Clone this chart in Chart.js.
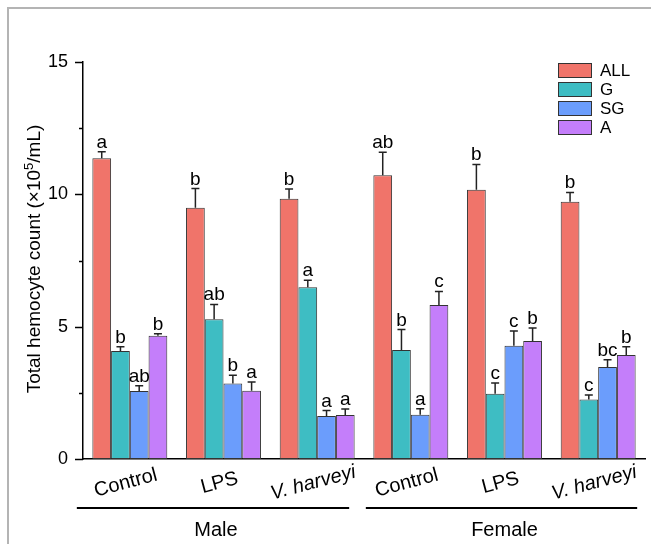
<!DOCTYPE html>
<html>
<head>
<meta charset="utf-8">
<script src="https://cdn.jsdelivr.net/npm/chart.js@4"></script>
<style>
  html, body { margin: 0; padding: 0; background: #fff; }
  #wrap { position: relative; width: 651px; height: 544px; overflow: hidden; }
  #frame { position: absolute; left: 7px; top: 7px; right: -10px; bottom: -10px;
           border-left: 2px solid #b4b4b4; border-top: 2px solid #b4b4b4; }
  canvas { position: absolute; left: 0; top: 0; }
</style>
</head>
<body>
<div id="wrap">
  <div id="frame"></div>
  <canvas id="chart" width="651" height="544"></canvas>
</div>
<script>
// categories and groups
const categories = ['Control', 'LPS', 'V. harveyi', 'Control', 'LPS', 'V. harveyi'];
const groups = ['Male', 'Female'];
const seriesNames = ['ALL', 'G', 'SG', 'A'];

// values
const allVals = [11.36, 9.49, 9.83, 10.72, 10.17, 9.72];
const allErr  = [0.25, 0.73, 0.37, 0.87, 0.96, 0.35];
const gVals   = [4.08, 5.28, 6.49, 4.12, 2.47, 2.25];
const gErr    = [0.16, 0.56, 0.26, 0.77, 0.40, 0.17];
const sgVals  = [2.57, 2.85, 1.62, 1.67, 4.28, 3.48];
const sgErr   = [0.20, 0.31, 0.21, 0.23, 0.56, 0.27];
const aVals   = [4.66, 2.58, 1.66, 5.82, 4.46, 3.93];
const aErr    = [0.07, 0.33, 0.23, 0.51, 0.49, 0.31];

// significance letters
const allLetters = ['a', 'b', 'b', 'ab', 'b', 'b'];
const gLetters   = ['b', 'ab', 'a', 'b', 'c', 'c'];
const sgLetters  = ['ab', 'b', 'a', 'a', 'c', 'bc'];
const aLetters   = ['b', 'a', 'a', 'c', 'b', 'b'];

const yTicks = [0, 5, 10, 15];

const colors = ['#f0746a', '#3ebdc3', '#6b9dfc', '#c47efa'];
const errs = [allErr, gErr, sgErr, aErr];
const letters = [allLetters, gLetters, sgLetters, aLetters];
const FONT = '"Liberation Sans", Arial, sans-serif';
const INK = '#000';

const extras = {
  id: 'extras',
  afterDatasetsDraw(chart) {
    const ctx = chart.ctx;
    const y = chart.scales.y;
    const x = chart.scales.x;
    const area = chart.chartArea;
    ctx.save();

    // error bars + letters
    chart.data.datasets.forEach((ds, i) => {
      const meta = chart.getDatasetMeta(i);
      meta.data.forEach((bar, j) => {
        const top = y.getPixelForValue(ds.data[j] + errs[i][j]);
        ctx.strokeStyle = '#222';
        ctx.lineWidth = 1.5;
        ctx.beginPath();
        ctx.moveTo(bar.x, bar.y);
        ctx.lineTo(bar.x, top);
        ctx.moveTo(bar.x - 4, top);
        ctx.lineTo(bar.x + 4, top);
        ctx.stroke();
        ctx.fillStyle = INK;
        ctx.font = '19px ' + FONT;
        ctx.textAlign = 'center';
        ctx.textBaseline = 'alphabetic';
        ctx.fillText(letters[i][j], bar.x, top - 4);
      });
    });

    // y tick marks, major and minor
    ctx.strokeStyle = '#000';
    ctx.lineWidth = 1.5;
    for (let v = 0; v <= 15; v += 2.5) {
      const py = Math.round(y.getPixelForValue(v)) + 0.5;
      const len = v % 5 === 0 ? 8 : 4;
      ctx.beginPath();
      ctx.moveTo(area.left - len, py);
      ctx.lineTo(area.left, py);
      ctx.stroke();
    }

    // category labels, rotated
    categories.forEach((c, i) => {
      const px = x.getPixelForValue(i) - 4;
      ctx.save();
      ctx.translate(px, 483);
      ctx.rotate(-15 * Math.PI / 180);
      ctx.font = (c.startsWith('V.') ? 'italic ' : '') + '20px ' + FONT;
      ctx.fillStyle = INK;
      ctx.textAlign = 'center';
      ctx.textBaseline = 'middle';
      ctx.fillText(c, 0, 0);
      ctx.restore();
    });

    // group lines and names
    const spans = [
      [x.getPixelForValue(0) - 53, x.getPixelForValue(2) + 32],
      [x.getPixelForValue(3) - 45, x.getPixelForValue(5) + 39]
    ];
    ctx.lineWidth = 2;
    spans.forEach((s, g) => {
      ctx.beginPath();
      ctx.moveTo(s[0], 508);
      ctx.lineTo(s[1], 508);
      ctx.stroke();
      ctx.font = '20px ' + FONT;
      ctx.fillStyle = INK;
      ctx.textAlign = 'center';
      ctx.textBaseline = 'alphabetic';
      ctx.fillText(groups[g], (s[0] + s[1]) / 2 + 3, 536);
    });

    // y title with superscript
    ctx.save();
    ctx.translate(40, 259);
    ctx.rotate(-Math.PI / 2);
    ctx.fillStyle = INK;
    ctx.textBaseline = 'alphabetic';
    ctx.textAlign = 'left';
    const p1 = 'Total hemocyte count (\u00d710';
    const p2 = '5';
    const p3 = '/mL)';
    ctx.font = '19px ' + FONT;
    const w1 = ctx.measureText(p1).width;
    const w3 = ctx.measureText(p3).width;
    ctx.font = '13px ' + FONT;
    const w2 = ctx.measureText(p2).width;
    let sx = -(w1 + w2 + w3) / 2;
    ctx.font = '19px ' + FONT;
    ctx.fillText(p1, sx, 0);
    ctx.font = '13px ' + FONT;
    ctx.fillText(p2, sx + w1, -7);
    ctx.font = '19px ' + FONT;
    ctx.fillText(p3, sx + w1 + w2, 0);
    ctx.restore();

    // legend
    seriesNames.forEach((n, i) => {
      const ty = 63 + i * 19;
      ctx.fillStyle = colors[i];
      ctx.fillRect(558, ty, 34, 15);
      ctx.strokeStyle = '#333';
      ctx.lineWidth = 1;
      ctx.strokeRect(558.5, ty + 0.5, 33, 14);
      ctx.fillStyle = INK;
      ctx.font = '17px ' + FONT;
      ctx.textAlign = 'left';
      ctx.textBaseline = 'middle';
      ctx.fillText(n, 600, ty + 8);
    });

    ctx.restore();
  }
};

new Chart(document.getElementById('chart'), {
  type: 'bar',
  data: {
    labels: categories,
    datasets: seriesNames.map((n, i) => ({
      label: n,
      data: [allVals, gVals, sgVals, aVals][i],
      backgroundColor: colors[i],
      borderColor: '#333',
      borderWidth: 1,
      borderSkipped: false,
      categoryPercentage: 0.8,
      barPercentage: 1.0
    }))
  },
  options: {
    responsive: false,
    animation: false,
    layout: { padding: { left: 0, top: 62, right: 6, bottom: 85 } },
    plugins: { legend: { display: false }, tooltip: { enabled: false } },
    scales: {
      x: {
        grid: { display: false },
        ticks: { display: false },
        border: { display: true, color: '#000', width: 1.5 },
        afterFit: s => { s.height = 0; }
      },
      y: {
        min: 0,
        max: 15,
        afterFit: s => { s.width = 83; },
        afterBuildTicks: s => { s.ticks = yTicks.map(v => ({ value: v })); },
        grid: { display: false, drawTicks: false },
        border: { display: true, color: '#000', width: 1.5 },
        ticks: {
          padding: 15,
          color: INK,
          font: { family: FONT, size: 18 }
        }
      }
    }
  },
  plugins: [extras]
});
</script>
</body>
</html>
